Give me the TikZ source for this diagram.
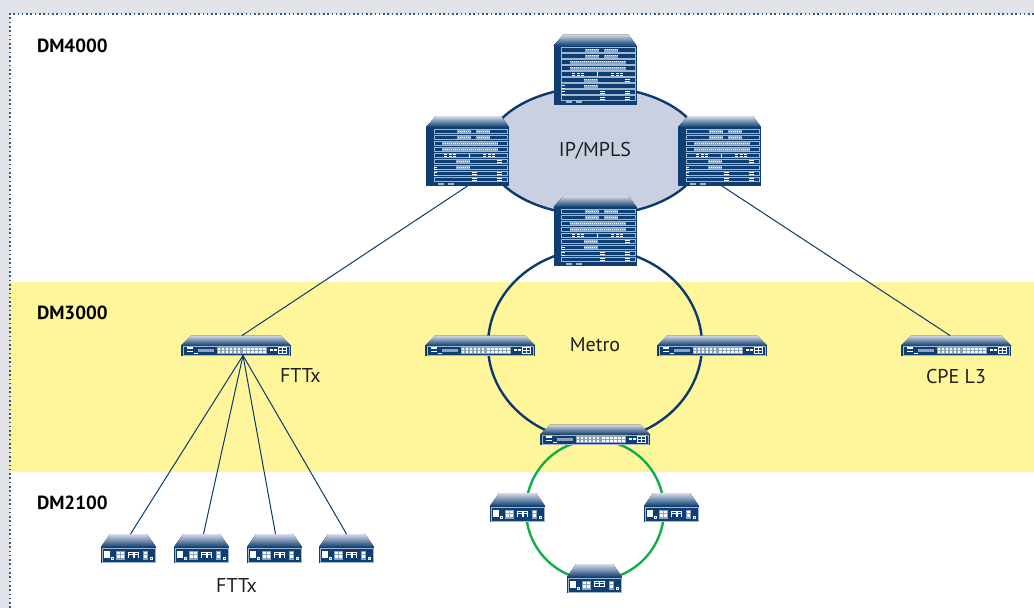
\documentclass[tikz,border=0pt]{standalone}
\usepackage{fontspec}
\setmainfont{PT Sans}
\usetikzlibrary{shapes.geometric}
\definecolor{navy}{HTML}{0F3F72}
\definecolor{ringblue}{HTML}{0B3B6E}
\definecolor{lite}{HTML}{A3B6CF}
\definecolor{patch}{HTML}{8CA3C0}
\definecolor{topl}{HTML}{D5DBE8}
\definecolor{pagegrey}{HTML}{E1E3E9}
\definecolor{band}{HTML}{FFF59B}
\definecolor{corefill}{HTML}{C8D0E1}
\definecolor{ringgreen}{HTML}{12AE4C}
\tikzset{
  x=1pt,y=-1pt,
  every node/.style={inner sep=0pt,outer sep=0pt},
  roof/.style={top color=topl,bottom color=navy,draw=none},
  slot/.style={draw=lite,line width=.8pt,fill=navy},
  wht/.style={fill=white,draw=none},
  pch/.style={fill=patch,draw=none},
  lbl/.style={font=\fontsize{20}{22}\selectfont,text=black!88},
  tier/.style={font=\fontsize{19}{22}\selectfont\bfseries,text=black},
  link/.style={draw=ringblue,line width=1pt},
  corering/.style={ellipse,draw=ringblue,line width=2.4pt,fill=corefill,minimum width=216pt,minimum height=128pt},
  metroring/.style={ellipse,draw=ringblue,line width=2.4pt,minimum width=214pt,minimum height=192pt},
  accessring/.style={ellipse,draw=ringgreen,line width=2.4pt,minimum width=138pt,minimum height=140pt},
  router/.pic={
    \node[minimum width=83pt,minimum height=70pt] (-box) at (41.5,35) {};
    \fill[roof] (10,0) -- (75,0) -- (83,11) -- (0,11) -- cycle;
    \fill[navy] (0,11) rectangle (83,70);
    \foreach \r in {0,...,8}{
      \draw[slot] (8,13.3+6*\r) rectangle (81.5,17.8+6*\r);
    }
    \foreach \r in {0,1}{
      \fill[pch] (31,14+6*\r) rectangle (45,17+6*\r);
      \fill[pch] (50,14+6*\r) rectangle (64,17+6*\r);
      \foreach \k in {0,...,6}{
        \fill[wht] (32+2*\k,14.6+6*\r) rectangle +(1,.9);
        \fill[wht] (51+2*\k,14.6+6*\r) rectangle +(1,.9);
      }
    }
    \foreach \r in {2,3}{
      \fill[pch] (16,14+6*\r) rectangle (72,17+6*\r);
      \foreach \k in {0,...,27}{
        \fill[wht] (16.6+2*\k,14.6+6*\r) rectangle +(1,.9);
      }
    }
    \foreach \xx in {18,23,27,57,62,66}{ \fill[wht] (\xx,38) rectangle +(3,1.2); \fill[wht] (\xx,40.2) rectangle +(3,.5);}
    \fill[wht] (43,37.6) rectangle +(.9,4);
    \foreach \r in {5,6}{
      \fill[pch] (30,14+6*\r) rectangle (44,17+6*\r);
      \foreach \k in {0,...,6}{ \fill[wht] (30.6+2*\k,14.6+6*\r) rectangle +(1,.9);}
    }
    \fill[wht] (71,44) rectangle +(5,1.1);
    \fill[wht] (71,46.2) rectangle +(5,.7);
    \fill[wht] (8,50.5) rectangle +(3,1.1);
    \fill[wht] (8,53) rectangle +(3,.8);
    \fill[wht] (8,56) rectangle +(3,1.1);
    \fill[wht] (8,59) rectangle +(3,.8);
    \foreach \xx in {46,71}{
      \fill[wht] (\xx,56) rectangle +(5,1.1);
      \fill[wht] (\xx,58.4) rectangle +(5,.8);
      \fill[wht] (\xx,62) rectangle +(5,1.1);
      \fill[wht] (\xx,64.4) rectangle +(5,.8);
    }
    \fill[lite] (12,66.6) rectangle +(6,2);
    \fill[lite] (22,66.6) rectangle +(6,2);
  },
  switchbox/.pic={
    \node[minimum width=110pt,minimum height=20pt] (-box) at (55,10) {};
    \fill[roof] (10,0) -- (100,0) -- (110,10) -- (0,10) -- cycle;
    \fill[navy] (0,10) rectangle (110,20);
    \draw[lite,line width=.4pt] (2,10.8) rectangle (108,19.2);
    \fill[wht] (6,11.8) rectangle (12,13.6);
    \fill[wht] (6,15) rectangle (12,16.8);
    \fill[wht] (13,17.2) rectangle (17,18);
    \fill[pch] (17,13.2) rectangle (33,16.8);
    \fill[patch] (36,11.3) rectangle (86,18.7);
    \foreach \k in {0,...,11}{
      \pgfmathsetmacro{\px}{37+4*\k+(\k>5?1.2:0)}
      \fill[wht] (\px,12.4) rectangle +(2.4,1.7);
      \fill[wht] (\px,15.4) rectangle +(2.4,1.7);
    }
    \fill[wht] (89,13.5) rectangle +(3,2);
    \fill[wht] (93,13.5) rectangle +(3,2);
    \draw[white,line width=.7pt] (97.5,12) rectangle (105.5,18) (101.5,12) -- (101.5,18) (97.5,15) -- (105.5,15);
  },
  deviceA/.pic={
    \node[minimum width=55pt,minimum height=29pt] (-box) at (27.5,14.5) {};
    \fill[roof] (9,0) -- (46,0) -- (55,13) -- (0,13) -- cycle;
    \fill[navy] (0,13) rectangle (55,29);
    \draw[lite,line width=.4pt] (1.2,14) rectangle (53.8,28);
    \fill[wht] (3,17) rectangle (9,24);
    \fill[wht] (10.2,23.4) rectangle +(2.8,2.8);
    \fill[navy] (11,24.2) rectangle +(1.2,1.2);
    \fill[wht] (49.2,23.4) rectangle +(2.8,2.8);
    \fill[navy] (50,24.2) rectangle +(1.2,1.2);
    \fill[pch] (15,16.5) rectangle (24,25.5);
    \foreach \a in {16.3,20.3}{\foreach \b in {17.6,21.4}{\fill[wht] (\a,\b) rectangle +(2.6,2.3);}}
    \fill[pch] (42,16.5) rectangle (47,25.5);
    \foreach \b in {17.6,21.4}{\fill[wht] (43.4,\b) rectangle +(2.2,2.3);}
    \draw[white,line width=.8pt] (27.5,23.5) -- (27.5,18) -- (32,18) -- (32,23.5) (27.5,20.6) -- (32,20.6)
      (33,23.5) -- (33,18) -- (37.5,18) -- (37.5,23.5) (33,20.6) -- (37.5,20.6);
  },
  deviceB/.pic={
    \node[minimum width=55pt,minimum height=29pt] (-box) at (27.5,14.5) {};
    \fill[roof] (9,0) -- (46,0) -- (55,13) -- (0,13) -- cycle;
    \fill[navy] (0,13) rectangle (55,29);
    \draw[lite,line width=.4pt] (1.2,14) rectangle (53.8,28);
    \fill[wht] (3,17) rectangle (9,24);
    \fill[wht] (10.2,23.4) rectangle +(2.8,2.8);
    \fill[navy] (11,24.2) rectangle +(1.2,1.2);
    \fill[wht] (49.2,23.4) rectangle +(2.8,2.8);
    \fill[navy] (50,24.2) rectangle +(1.2,1.2);
    \fill[pch] (15,16.5) rectangle (24,25.5);
    \foreach \a in {16.3,20.3}{\foreach \b in {17.6,21.4}{\fill[wht] (\a,\b) rectangle +(2.6,2.3);}}
    \fill[pch] (42,16.5) rectangle (47,25.5);
    \foreach \b in {17.6,21.4}{\fill[wht] (43.4,\b) rectangle +(2.2,2.3);}
    \draw[white,line width=.8pt] (27.5,17) rectangle (37.5,22.5) (32.5,17) -- (32.5,22.5) (27.5,19.7) -- (37.5,19.7);
  },
}
\begin{document}
\begin{tikzpicture}
\useasboundingbox (0,0) rectangle (1034,608);
\fill[pagegrey] (0,0) rectangle (1034,608);
\fill[white] (10,14) rectangle (1034,608);
\fill[band] (10,282) rectangle (1034,472);
\draw[ringblue!85,line width=1.7pt,dash pattern=on 1.6pt off 2.7pt] (9.8,608) -- (9.8,13.8) -- (1034,13.8);

\node[tier,anchor=west] (t1) at (37,46) {DM4000};
\node[tier,anchor=west] (t2) at (37,313) {DM3000};
\node[tier,anchor=west] (t3) at (37,503) {DM2100};

\node[corering,lbl] (core) at (595,151) {\raisebox{1pt}{IP/MPLS}};
\node[metroring] (metro) at (595,345) {};
\node[lbl] (metrolabel) at (595,345) {Metro};
\node[accessring] (access) at (595,510) {};

\path pic (r1) at (553.5,34.5) {router};
\path pic (r2) at (426,116) {router};
\path pic (r3) at (678,116) {router};
\path pic (r4) at (553.5,196) {router};

\path pic (s1) at (181,335.5) {switchbox};
\path pic (s2) at (425,335.5) {switchbox};
\path pic (s3) at (657,335.5) {switchbox};
\path pic (s4) at (901,335.5) {switchbox};
\path pic (s5) at (540,424.5) {switchbox};

\path pic (d1) at (101,534) {deviceA};
\path pic (d2) at (174,534) {deviceA};
\path pic (d3) at (247,534) {deviceA};
\path pic (d4) at (319,534) {deviceA};
\path pic (d5) at (490,493) {deviceA};
\path pic (d6) at (644,493) {deviceA};
\path pic (d7) at (567,564) {deviceB};

\draw[link] (r2-box.south) -- ([xshift=6pt]s1-box.north);
\draw[link] ([xshift=2.5pt]r3-box.south) -- ([xshift=-6pt]s4-box.north);
\draw[link] ([xshift=7pt]s1-box.south) -- ([xshift=2pt]d1-box.north);
\draw[link] ([xshift=7pt]s1-box.south) -- ([xshift=2pt]d2-box.north);
\draw[link] ([xshift=7pt]s1-box.south) -- ([xshift=1pt]d3-box.north);
\draw[link] ([xshift=7pt]s1-box.south) -- (d4-box.north);

\node[lbl,anchor=west] (l1) at (280,375) {FTTx};
\node[lbl] (l2) at (956,376) {CPE L3};
\node[lbl] (l3) at (236.5,585) {FTTx};
\end{tikzpicture}
\end{document}
